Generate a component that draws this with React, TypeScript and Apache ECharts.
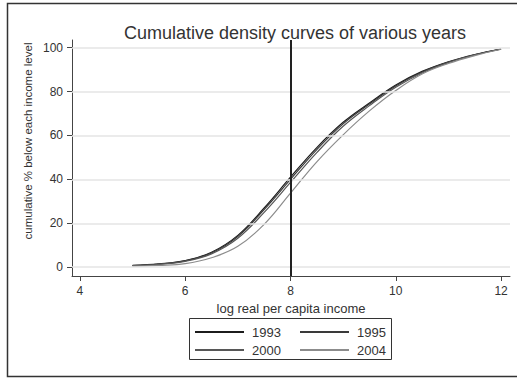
import React, { useEffect, useRef } from "react";
import * as echarts from "echarts";

// Log real per capita income at which each cumulative share is read
const incomeLog = [5, 5.5, 6, 6.5, 7, 7.5, 8, 8.5, 9, 9.5, 10, 10.5, 11, 11.5, 12];

// Cumulative % of population below each income level, by year
const cum1993 = [0.8, 1.5, 3.0, 6.8, 14.5, 27.0, 41.0, 54.5, 66.0, 74.8, 83.0, 89.2, 93.6, 96.9, 99.4];
const cum1995 = [0.7, 1.4, 2.9, 6.5, 14.0, 26.3, 40.0, 53.6, 65.3, 74.3, 82.6, 88.9, 93.4, 96.8, 99.4];
const cum2000 = [0.7, 1.3, 2.7, 6.1, 13.2, 25.0, 38.6, 52.2, 64.2, 73.6, 82.0, 88.5, 93.2, 96.7, 99.3];
const cum2004 = [0.4, 0.8, 1.6, 4.3, 9.5, 19.5, 33.7, 48.0, 60.3, 71.2, 80.5, 88.0, 92.8, 96.4, 99.3];

const years = ["1993", "1995", "2000", "2004"];
const yearColors = ["#1c1c1c", "#3a3a3a", "#575757", "#8c8c8c"];

const yTicks = [0, 20, 40, 60, 80, 100];
const xTicks = [4, 6, 8, 10, 12];
const referenceIncome = 8;

const FONT = "Liberation Sans, Arial, Helvetica, sans-serif";

export default function App() {
  const ref = useRef<HTMLDivElement>(null);

  useEffect(() => {
    if (!ref.current) return;
    const chart = echarts.init(ref.current, undefined, { renderer: "svg" });

    const seriesValues = [cum1993, cum1995, cum2000, cum2004];
    const curveSeries = years.map((year, i) => ({
      name: year,
      type: "line",
      data: incomeLog.map((x, k) => [x, seriesValues[i][k]]),
      smooth: 0.4,
      symbol: "none",
      z: 3,
      lineStyle: { color: yearColors[i], width: 1.2 },
      itemStyle: { color: yearColors[i] },
      ...(i === 0
        ? {
            markLine: {
              silent: true,
              symbol: ["none", "none"],
              label: { show: false },
              lineStyle: { color: "#222", width: 2, type: "solid" },
              data: [{ xAxis: referenceIncome }],
            },
          }
        : {}),
    }));

    const legendCommon = {
      orient: "vertical",
      itemWidth: 49,
      itemHeight: 2,
      itemGap: 3,
      padding: 0,
      icon: "rect",
      textStyle: {
        fontFamily: FONT,
        fontSize: 13,
        lineHeight: 15,
        color: "#333",
        padding: [0, 0, 0, 3],
      },
    };

    chart.setOption({
      animation: false,
      backgroundColor: "#fff",
      textStyle: { fontFamily: FONT },
      title: {
        text: "Cumulative density curves of various years",
        left: 290,
        top: 19,
        textAlign: "center",
        textStyle: {
          fontFamily: FONT,
          fontSize: 18,
          fontWeight: "normal",
          color: "#333",
        },
      },
      legend: [
        { ...legendCommon, left: 195, top: 324.5, data: ["1993", "2000"] },
        { ...legendCommon, left: 300, top: 324.5, data: ["1995", "2004"] },
      ],
      grid: {
        left: 72,
        top: 40,
        right: 7,
        bottom: 102,
        containLabel: false,
        outerBoundsMode: "none",
      },
      xAxis: {
        type: "value",
        min: 3.85,
        max: 12.17,
        name: "log real per capita income",
        nameLocation: "middle",
        nameGap: 24,
        nameTextStyle: { fontFamily: FONT, fontSize: 13, color: "#333" },
        axisLine: { show: true, onZero: false, lineStyle: { color: "#444", width: 1 } },
        axisTick: {
          show: true,
          length: 5,
          customValues: xTicks,
          lineStyle: { color: "#444" },
        },
        axisLabel: {
          customValues: xTicks,
          margin: 9,
          fontFamily: FONT,
          fontSize: 12,
          color: "#333",
        },
        splitLine: { show: false },
      },
      yAxis: {
        type: "value",
        min: -4,
        max: 103.5,
        axisLine: { show: true, onZero: false, lineStyle: { color: "#444", width: 1 } },
        axisTick: {
          show: true,
          length: 5,
          customValues: yTicks,
          lineStyle: { color: "#444" },
        },
        axisLabel: {
          customValues: yTicks,
          margin: 9,
          fontFamily: FONT,
          fontSize: 12,
          color: "#333",
        },
        splitLine: { show: false },
      },
      graphic: [
        {
          type: "polyline",
          shape: {
            points: [
              [517, 3.5],
              [7.5, 3.5],
              [7.5, 376.5],
              [517, 376.5],
            ],
          },
          style: { fill: "none", stroke: "#333", lineWidth: 1.5 },
          silent: true,
        },
        {
          type: "rect",
          shape: { x: 189.5, y: 318.5, width: 202, height: 41 },
          style: { fill: "none", stroke: "#333", lineWidth: 1 },
          silent: true,
        },
        {
          type: "text",
          x: 28,
          y: 141,
          rotation: Math.PI / 2,
          style: {
            text: "cumulative % below each income level",
            fontFamily: FONT,
            fontSize: 11.5,
            fill: "#333",
            align: "center",
            verticalAlign: "middle",
          },
          silent: true,
        },
      ],
      series: [
        {
          name: "gridlines",
          type: "line",
          data: [],
          z: 1,
          silent: true,
          markLine: {
            silent: true,
            symbol: ["none", "none"],
            label: { show: false },
            lineStyle: { color: "#e4e4e4", width: 1.5, type: "solid" },
            data: yTicks.map((v) => ({ yAxis: v })),
          },
        },
        ...curveSeries,
      ],
    });

    return () => chart.dispose();
  }, []);

  return (
    <div
      ref={ref}
      style={{ position: "absolute", left: 0, top: 0, width: 517, height: 378 }}
    />
  );
}
